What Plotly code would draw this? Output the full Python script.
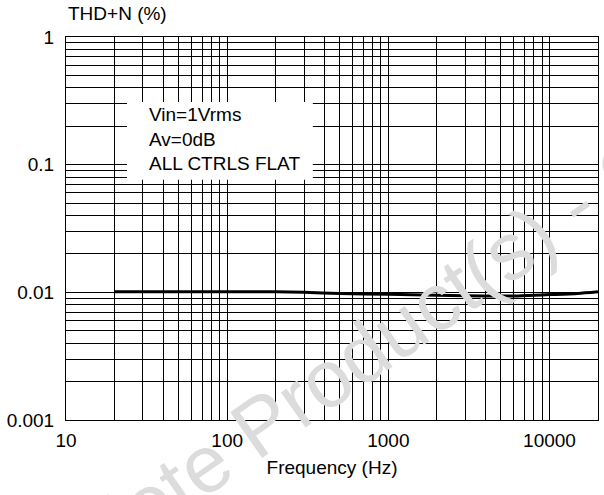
import plotly.graph_objects as go

# Data
freq_hz = [20, 50, 100, 200, 300, 500, 1000, 2000, 3000, 5000, 6000, 8000, 10000, 15000, 20000]
thd_pct = [0.0101, 0.0101, 0.0101, 0.0101, 0.0100, 0.0098, 0.00965, 0.0095, 0.0094, 0.00935, 0.00935, 0.0095, 0.0096, 0.0098, 0.0101]

x_grid = [10, 20, 30, 40, 50, 60, 70, 80, 90,
          100, 200, 300, 400, 500, 600, 700, 800, 900,
          1000, 2000, 3000, 4000, 5000, 6000, 7000, 8000, 9000,
          10000, 20000]
x_labels = {10: "10", 100: "100", 1000: "1000", 10000: "10000"}
y_grid = [0.001, 0.002, 0.003, 0.004, 0.005, 0.006, 0.007, 0.008, 0.009,
          0.01, 0.02, 0.03, 0.04, 0.05, 0.06, 0.07, 0.08, 0.09,
          0.1, 0.2, 0.3, 0.4, 0.5, 0.6, 0.7, 0.8, 0.9, 1]
y_labels = {0.001: "0.001", 0.01: "0.01", 0.1: "0.1", 1: "1"}

conditions = ["Vin=1Vrms", "Av=0dB", "ALL CTRLS FLAT"]
FONT = "Liberation Sans, Arial, sans-serif"

fig = go.Figure()
fig.add_trace(go.Scatter(x=freq_hz, y=thd_pct, mode="lines",
                         line=dict(color="black", width=3, shape="spline", smoothing=0.6),
                         showlegend=False, hoverinfo="skip"))

axis_common = dict(showgrid=True, gridcolor="black", gridwidth=1,
                   showline=True, linecolor="black", linewidth=1, mirror=True,
                   zeroline=False, ticks="", automargin=False,
                   tickfont=dict(size=19, color="black", family=FONT))

fig.update_xaxes(type="log", range=[1, 4.30103], tickmode="array",
                 tickvals=x_grid, ticktext=[x_labels.get(v, "") for v in x_grid],
                 ticklabelstandoff=3,
                 title=dict(text="Frequency (Hz)", font=dict(size=19, color="black", family=FONT), standoff=10),
                 **axis_common)
fig.update_yaxes(type="log", range=[-3, 0], tickmode="array",
                 tickvals=y_grid, ticktext=[y_labels.get(v, "") for v in y_grid],
                 ticklabelstandoff=7,
                 **axis_common)

# white inset box covering the grid
fig.add_shape(type="rect", xref="paper", yref="paper",
              x0=0.1147, x1=0.464, y0=0.627, y1=0.830,
              fillcolor="white", line=dict(width=0), layer="above")

fig.add_annotation(xref="paper", yref="paper", x=0.152, y=0.830,
                   xanchor="left", yanchor="top", align="left", showarrow=False,
                   text="<br>".join(conditions),
                   font=dict(size=19, color="black", family=FONT))

fig.add_annotation(xref="paper", yref="paper", x=0.0, y=1.062,
                   xanchor="left", yanchor="middle", showarrow=False,
                   text="THD+N (%)", font=dict(size=19, color="black", family=FONT))

# watermark
fig.add_annotation(xref="paper", yref="paper", x=0.959, y=0.564,
                   xanchor="center", yanchor="middle", showarrow=False,
                   textangle=-35,
                   text="Obsolete Product(s) - Obsolete Product(s)",
                   font=dict(size=81, color="#dcdcdc", family=FONT))

fig.update_layout(width=604, height=495, margin=dict(l=66, r=6, t=37, b=75),
                  paper_bgcolor="white", plot_bgcolor="white",
                  font=dict(family=FONT, color="black"))

# remove the browser's default 8px body margin so the figure fills the window
fig.write_html("out.html", config={"displayModeBar": False},
               post_script="document.body.style.margin='0px';")
